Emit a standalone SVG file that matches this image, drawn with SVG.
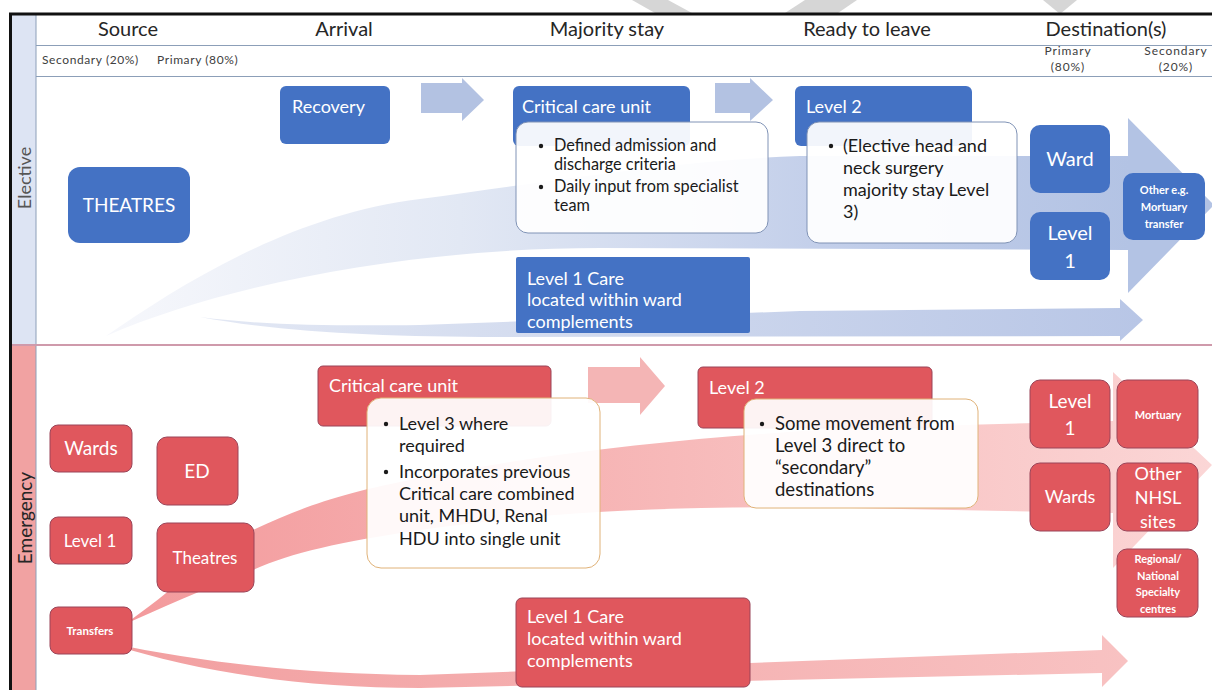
<svg xmlns="http://www.w3.org/2000/svg" width="1212" height="690" viewBox="0 0 1212 690">
  <style>
    text { font-family: Lato, "Open Sans", "Liberation Sans", sans-serif; }
    .hdr { font-size: 20px; fill: #262626; text-anchor: middle; }
    .sub { font-size: 12px; fill: #404040; letter-spacing: 0.6px; }
    .subc { font-size: 12px; fill: #404040; text-anchor: middle; letter-spacing: 0.9px; }
    .blue { fill: #4472c4; }
    .red { fill: #e0575d; stroke: #9a4458; stroke-width: 1; }
    .lbl { fill: #ffffff; font-size: 18px; }
    .lblc { fill: #ffffff; text-anchor: middle; }
    .small { fill: #ffffff; text-anchor: middle; font-size: 11px; font-weight: bold; }
    .callE { fill: #ffffff; fill-opacity: 0.93; stroke: #8093b6; stroke-width: 1; }
    .callM { fill: #ffffff; fill-opacity: 0.93; stroke: #e0b278; stroke-width: 1; }
    .body { fill: #1a1a1a; font-size: 18px; }
    .body-s { fill: #1a1a1a; font-size: 16.3px; }
    .body-l { fill: #1a1a1a; font-size: 18.5px; }
    .rule { stroke: #8c9fb8; stroke-width: 1; }
  </style>
  <defs>
    <linearGradient id="gBlue" gradientUnits="userSpaceOnUse" x1="100" y1="0" x2="1130" y2="0">
      <stop offset="0" stop-color="#f7f8fc"/>
      <stop offset="0.35" stop-color="#e2e8f4"/>
      <stop offset="0.7" stop-color="#c3cfea"/>
      <stop offset="1" stop-color="#b3c3e4"/>
    </linearGradient>
    <linearGradient id="gBlueLow" gradientUnits="userSpaceOnUse" x1="200" y1="0" x2="1140" y2="0">
      <stop offset="0" stop-color="#e3e8f4"/>
      <stop offset="1" stop-color="#b8c6e6"/>
    </linearGradient>
    <linearGradient id="gRed" gradientUnits="userSpaceOnUse" x1="130" y1="0" x2="1212" y2="0">
      <stop offset="0" stop-color="#f39a9c"/>
      <stop offset="0.5" stop-color="#f7b9b9"/>
      <stop offset="1" stop-color="#fbd6d6"/>
    </linearGradient>
    <linearGradient id="gRedLow" gradientUnits="userSpaceOnUse" x1="110" y1="0" x2="1130" y2="0">
      <stop offset="0" stop-color="#f29fa0"/>
      <stop offset="1" stop-color="#f8c2c2"/>
    </linearGradient>
  </defs>

  <rect width="1212" height="690" fill="#ffffff"/>

  <!-- faint grey marks above the frame -->
  <g fill="#d6d6d6">
    <polygon points="632,0 668,0 692,13 655,13"/>
    <polygon points="805,0 857,0 838,13 785,13"/>
    <polygon points="1043,0 1077,0 1060,14"/>
  </g>

  <!-- frame and swimlanes -->
  <g id="frame">
    <rect x="11" y="15" width="25" height="330" fill="#dde4f3"/>
    <rect x="11" y="345" width="25" height="345" fill="#f1a2a2"/>
    <line x1="36" y1="15" x2="36" y2="690" stroke="#8c9fb8" stroke-width="1"/>
    <line class="rule" x1="36" y1="45.5" x2="1212" y2="45.5"/>
    <line class="rule" x1="36" y1="76.5" x2="1212" y2="76.5"/>
    <line x1="11" y1="345" x2="1212" y2="345" stroke="#cf9aab" stroke-width="2"/>
    <line x1="9" y1="14" x2="1212" y2="14" stroke="#111111" stroke-width="3"/>
    <line x1="10.5" y1="13" x2="10.5" y2="690" stroke="#111111" stroke-width="3"/>
    <text x="24" y="178" transform="rotate(-90 24 178)" text-anchor="middle" dominant-baseline="central" font-size="18" fill="#555555">Elective</text>
    <text x="24" y="518" transform="rotate(-90 24 518)" text-anchor="middle" dominant-baseline="central" font-size="19" fill="#262626">Emergency</text>
  </g>

  <!-- column headings -->
  <g id="headings">
    <text class="hdr" x="128" y="36">Source</text>
    <text class="hdr" x="344" y="36">Arrival</text>
    <text class="hdr" x="607" y="36">Majority stay</text>
    <text class="hdr" x="867" y="36">Ready to leave</text>
    <text class="hdr" x="1106" y="36">Destination(s)</text>
    <text class="sub" x="42" y="64">Secondary (20%)</text>
    <text class="sub" x="157" y="64">Primary (80%)</text>
    <text class="subc" x="1068" y="55">Primary</text>
    <text class="subc" x="1068" y="71">(80%)</text>
    <text class="subc" x="1176" y="55">Secondary</text>
    <text class="subc" x="1176" y="71">(20%)</text>
  </g>

  <!-- flow arrows -->
  <g id="connectors">
    <path d="M106,336 C180,285 290,215 420,199 C560,180 680,160 800,156 L1128,156 L1128,118 L1214,205 L1128,293 L1128,250 L600,248 C420,248 230,282 106,336 Z" fill="url(#gBlue)"/>
    <path d="M200,317 C260,325 330,326 420,325 L800,311 L1120,308 L1120,299 L1143,320 L1120,341 L1120,336 L500,337 C380,337 280,332 200,317 Z" fill="url(#gBlueLow)"/>
    <polygon points="421,83 462,83 462,78 484,100 462,121 462,113 421,113" fill="#b3c2e2"/>
    <polygon points="715,83 750,83 750,78 773,100 750,121 750,113 715,113" fill="#b3c2e2"/>

    <path d="M132,619 C180,585 220,545 253,530 C300,508 340,493 420,478 C560,450 700,437 850,428 L1113,421 L1113,372 L1212,465 L1113,568 L1113,513 L850,508 C700,505 560,510 420,530 C340,542 290,553 253,570 C220,582 180,600 132,621 Z" fill="url(#gRed)"/>
    <path d="M110,643 C200,662 300,674 420,675 L1102,650 L1102,635 L1128,661 L1102,687 L1102,673 L420,688 C300,688 200,672 110,644 Z" fill="url(#gRedLow)"/>
    <polygon points="588,367 640,367 640,357 665,386 640,415 640,403 588,403" fill="#f4b5b5"/>
  </g>

  <!-- elective nodes -->
  <g id="e-theatres">
    <rect class="blue" x="68" y="167" width="122" height="76" rx="12"/>
    <text class="lblc" x="129" y="212" font-size="19">THEATRES</text>
  </g>
  <g id="e-recovery">
    <rect class="blue" x="280" y="86" width="110" height="58" rx="6"/>
    <text class="lbl" x="292" y="113">Recovery</text>
  </g>
  <g id="e-ccu">
    <rect class="blue" x="513" y="86" width="177" height="60" rx="6"/>
    <text class="lbl" x="522" y="113">Critical care unit</text>
    <rect class="callE" x="516" y="122" width="252" height="111" rx="12"/>
    <circle cx="541" cy="146" r="2.2" fill="#1a1a1a"/>
    <circle cx="541" cy="187" r="2.2" fill="#1a1a1a"/>
    <text class="body-s" x="554" y="151">Defined admission and</text>
    <text class="body-s" x="554" y="170">discharge criteria</text>
    <text class="body-s" x="554" y="192">Daily input from specialist</text>
    <text class="body-s" x="554" y="211">team</text>
  </g>
  <g id="e-level2">
    <rect class="blue" x="795" y="86" width="177" height="60" rx="6"/>
    <text class="lbl" x="806" y="113">Level 2</text>
    <rect class="callE" x="807" y="122" width="210" height="121" rx="12"/>
    <circle cx="831" cy="146" r="2.2" fill="#1a1a1a"/>
    <text class="body" x="843" y="152">(Elective head and</text>
    <text class="body" x="843" y="174">neck surgery</text>
    <text class="body" x="843" y="196">majority stay Level</text>
    <text class="body" x="843" y="218">3)</text>
  </g>
  <g id="e-level1care">
    <rect class="blue" x="516" y="257" width="234" height="76" rx="2"/>
    <text class="lbl" x="527" y="285">Level 1 Care</text>
    <text class="lbl" x="527" y="306">located within ward</text>
    <text class="lbl" x="527" y="328">complements</text>
  </g>
  <g id="e-ward">
    <rect class="blue" x="1030" y="125" width="80" height="68" rx="10"/>
    <text class="lblc" x="1070" y="166" font-size="20">Ward</text>
  </g>
  <g id="e-level1">
    <rect class="blue" x="1030" y="212" width="80" height="68" rx="10"/>
    <text class="lblc" x="1070" y="240" font-size="20">Level</text>
    <text class="lblc" x="1070" y="268" font-size="20">1</text>
  </g>
  <g id="e-other">
    <rect class="blue" x="1123" y="173" width="82" height="67" rx="10"/>
    <text class="small" x="1164" y="194">Other e.g.</text>
    <text class="small" x="1164" y="211">Mortuary</text>
    <text class="small" x="1164" y="228">transfer</text>
  </g>

  <!-- emergency nodes -->
  <g id="m-wards">
    <rect class="red" x="50" y="425" width="82" height="47" rx="8"/>
    <text class="lblc" x="91" y="455" font-size="19">Wards</text>
  </g>
  <g id="m-ed">
    <rect class="red" x="157" y="437" width="81" height="68" rx="10"/>
    <text class="lblc" x="197" y="478" font-size="19">ED</text>
  </g>
  <g id="m-level1">
    <rect class="red" x="50" y="517" width="82" height="47" rx="8"/>
    <text class="lblc" x="90" y="547" font-size="17">Level 1</text>
  </g>
  <g id="m-theatres">
    <rect class="red" x="157" y="523" width="97" height="69" rx="10"/>
    <text class="lblc" x="205" y="564" font-size="17">Theatres</text>
  </g>
  <g id="m-transfers">
    <rect class="red" x="50" y="607" width="82" height="47" rx="8"/>
    <text class="lblc" x="90" y="635" font-size="11.5" font-weight="bold">Transfers</text>
  </g>
  <g id="m-ccu">
    <rect class="red" stroke="none" x="318" y="366" width="233" height="60" rx="5"/>
    <text class="lbl" x="329" y="392">Critical care unit</text>
    <rect class="callM" x="367" y="398" width="233" height="170" rx="14"/>
    <circle cx="386" cy="424" r="2.2" fill="#1a1a1a"/>
    <circle cx="386" cy="472" r="2.2" fill="#1a1a1a"/>
    <text class="body" x="399" y="430">Level 3 where</text>
    <text class="body" x="399" y="452">required</text>
    <text class="body" x="399" y="478">Incorporates previous</text>
    <text class="body" x="399" y="500">Critical care combined</text>
    <text class="body" x="399" y="522">unit, MHDU, Renal</text>
    <text class="body" x="399" y="545">HDU into single unit</text>
  </g>
  <g id="m-level2">
    <rect class="red" stroke="none" x="698" y="367" width="234" height="61" rx="5"/>
    <text class="lbl" x="709" y="394">Level 2</text>
    <rect class="callM" x="744" y="399" width="234" height="109" rx="12"/>
    <circle cx="762" cy="424" r="2.2" fill="#1a1a1a"/>
    <text class="body-l" x="775" y="430">Some movement from</text>
    <text class="body-l" x="775" y="452">Level 3 direct to</text>
    <text class="body-l" x="775" y="474">“secondary”</text>
    <text class="body-l" x="775" y="496">destinations</text>
  </g>
  <g id="m-level1care">
    <rect class="red" stroke="none" x="516" y="598" width="234" height="89" rx="6"/>
    <text class="lbl" x="527" y="623">Level 1 Care</text>
    <text class="lbl" x="527" y="645">located within ward</text>
    <text class="lbl" x="527" y="667">complements</text>
  </g>
  <g id="m-dest-level1">
    <rect class="red" x="1030" y="380" width="80" height="68" rx="10"/>
    <text class="lblc" x="1070" y="408" font-size="19">Level</text>
    <text class="lblc" x="1070" y="435" font-size="19">1</text>
  </g>
  <g id="m-mortuary">
    <rect class="red" x="1117" y="380" width="81" height="68" rx="10"/>
    <text class="small" x="1158" y="419">Mortuary</text>
  </g>
  <g id="m-dest-wards">
    <rect class="red" x="1030" y="463" width="80" height="68" rx="10"/>
    <text class="lblc" x="1070" y="503" font-size="18">Wards</text>
  </g>
  <g id="m-nhsl">
    <rect class="red" x="1117" y="463" width="81" height="68" rx="10"/>
    <text class="lblc" x="1158" y="480" font-size="18">Other</text>
    <text class="lblc" x="1158" y="504" font-size="18">NHSL</text>
    <text class="lblc" x="1158" y="528" font-size="18">sites</text>
  </g>
  <g id="m-regional">
    <rect class="red" x="1117" y="549" width="81" height="68" rx="10"/>
    <text class="small" x="1158" y="563">Regional/</text>
    <text class="small" x="1158" y="580">National</text>
    <text class="small" x="1158" y="596">Specialty</text>
    <text class="small" x="1158" y="613">centres</text>
  </g>
</svg>
